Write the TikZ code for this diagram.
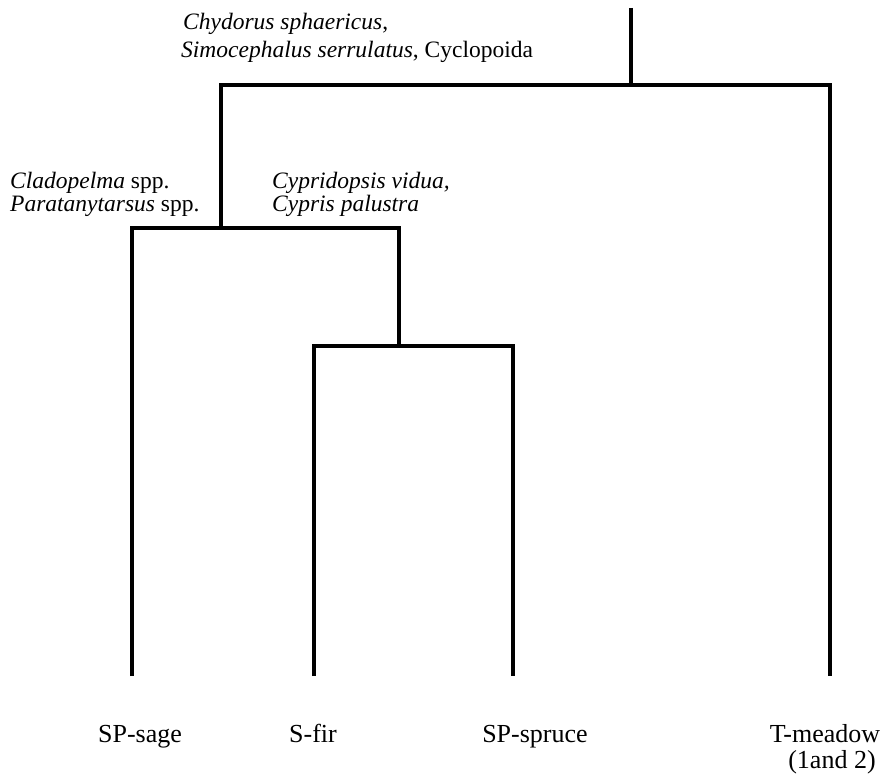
\documentclass[tikz,border=0pt]{standalone}
\usepackage{fontspec}
\setmainfont{Liberation Serif}
\begin{document}
\begin{tikzpicture}[x=1pt,y=-1pt,
  link/.style={line width=3.6pt,line join=miter,line cap=butt},
  grp/.style={anchor=base west,inner sep=0pt,font=\fontsize{23.5}{28}\selectfont},
  leaf/.style={anchor=base,inner sep=0pt,font=\fontsize{26}{30}\selectfont,align=center}]
\useasboundingbox (0,0) rectangle (886,776);
% junctions and leaf ends
\coordinate (rtop) at (631,8);
\coordinate (r) at (631,85);
\coordinate (n1) at (221,228);
\coordinate (n2) at (399,346);
\coordinate (l1) at (132,676);
\coordinate (l2) at (314,676);
\coordinate (l3) at (513,676);
\coordinate (l4) at (830,676);
% dendrogram
\draw[link] (rtop) -- (r);
\draw[link] (n1) |- (r) -| (l4);
\draw[link] (l1) |- (n1) -| (n2);
\draw[link] (l2) |- (n2) -| (l3);
% group labels
\node[grp] (g1a) at (183,30) {\textit{Chydorus sphaericus},};
\node[grp] (g1b) at (181,58) {\textit{Simocephalus serrulatus}, Cyclopoida};
\node[grp] (g2a) at (10,188) {\textit{Cladopelma} spp.};
\node[grp] (g2b) at (10,211) {\textit{Paratanytarsus} spp.};
\node[grp] (g3a) at (272,188) {\textit{Cypridopsis vidua,}};
\node[grp] (g3b) at (272,211) {\textit{Cypris palustra}};
% leaf labels
\node[leaf] (sage) at (140,742) {SP-sage};
\node[leaf] (fir) at (313,742) {S-fir};
\node[leaf] (spruce) at (535,742) {SP-spruce};
\node[leaf] (meadow) at (825,742) {T-meadow};
\node[leaf] (meadowb) at (832,768) {(1and 2)};
\end{tikzpicture}
\end{document}
